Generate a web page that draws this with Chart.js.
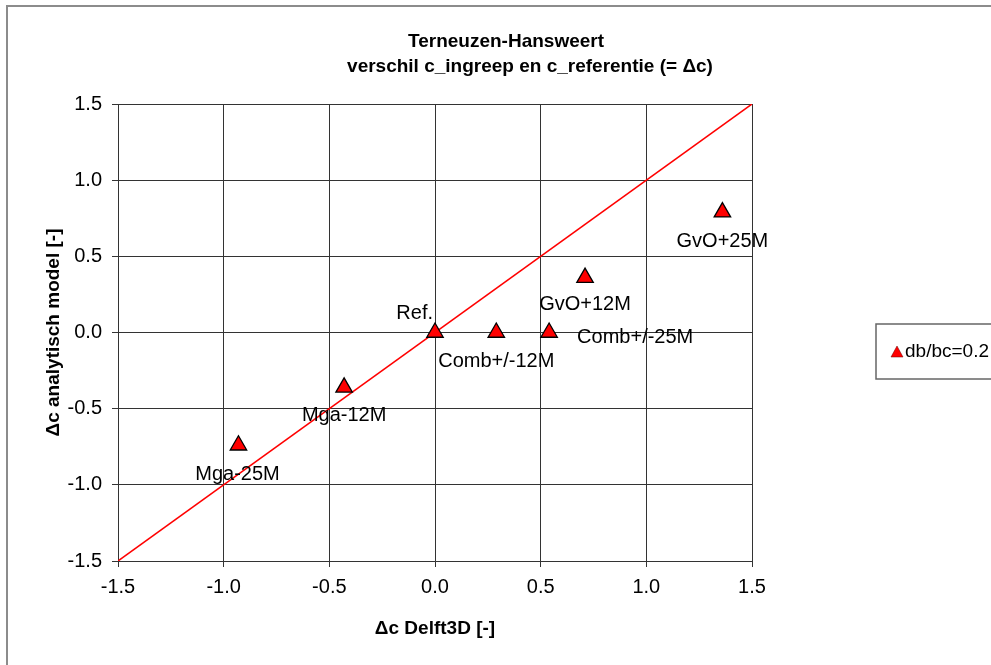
<!DOCTYPE html>
<html>
<head>
<meta charset="utf-8">
<script src="https://cdn.jsdelivr.net/npm/chart.js@4"></script>
<style>
  body { margin: 0; background: #fff; }
  canvas { display: block; }
</style>
</head>
<body>
<canvas id="chart" width="991" height="665"></canvas>
<script>
// data
const pointNames = ['Ref.', 'Comb+/-12M', 'Comb+/-25M', 'GvO+12M', 'GvO+25M', 'Mga-12M', 'Mga-25M'];
const delft3d = [0, 0.29, 0.54, 0.71, 1.36, -0.43, -0.93];
const analytisch = [0, 0, 0, 0.36, 0.79, -0.36, -0.74];
const lineX = [-1.5, 1.5];
const lineY = [-1.5, 1.5];
const tickValues = [-1.5, -1.0, -0.5, 0.0, 0.5, 1.0, 1.5];
const seriesName = 'db/bc=0.2';
const titleLines = ['Terneuzen-Hansweert', 'verschil c_ingreep en c_referentie (= \u0394c)'];

const FONT = '"Liberation Sans", Arial, sans-serif';
const GRID = '#333';

// where each point label sits relative to its marker
const labelPlace = {
    'Ref.':       { dx: -2, dy: -19, align: 'right' },
    'Comb+/-12M': { dx: 0, dy: 29, align: 'center' },
    'Comb+/-25M': { dx: 28, dy: 5, align: 'left' },
    'GvO+12M':    { dx: 0, dy: 27, align: 'center' },
    'GvO+25M':    { dx: 0, dy: 29, align: 'center' },
    'Mga-12M':    { dx: 0, dy: 28, align: 'center' },
    'Mga-25M':    { dx: -1, dy: 29, align: 'center' }
};

const decor = {
    id: 'decor',
    beforeDraw(chart) {
        const c = chart.ctx;
        c.save();
        c.fillStyle = '#fff';
        c.fillRect(0, 0, chart.width, chart.height);
        c.strokeStyle = '#8c8c8c';
        c.lineWidth = 2;
        c.strokeRect(7, 6, chart.width + 10, chart.height + 10);
        c.restore();
    },
    afterDraw(chart) {
        const c = chart.ctx;
        const area = chart.chartArea;
        c.save();
        // title
        c.fillStyle = '#000';
        c.font = 'bold 19px ' + FONT;
        c.textAlign = 'center';
        c.textBaseline = 'middle';
        c.fillText(titleLines[0], 506, 42);
        c.fillText(titleLines[1], 530, 67);

        // point labels
        c.font = '20px ' + FONT;
        const meta = chart.getDatasetMeta(0);
        meta.data.forEach((pt, i) => {
            const p = labelPlace[pointNames[i]];
            c.textAlign = p.align;
            c.fillText(pointNames[i], pt.x + p.dx, pt.y + p.dy);
        });

        // legend box
        const lx = area.right + 124, ly = 324;
        c.strokeStyle = '#666';
        c.lineWidth = 1.5;
        c.strokeRect(lx, ly, 200, 55);
        const ty = 352;
        c.fillStyle = '#ff0000';
        c.strokeStyle = '#600';
        c.lineWidth = 0.5;
        c.beginPath();
        c.moveTo(lx + 21, ty - 6);
        c.lineTo(lx + 27, ty + 5);
        c.lineTo(lx + 15, ty + 5);
        c.closePath();
        c.fill();
        c.stroke();
        c.fillStyle = '#000';
        c.textAlign = 'left';
        c.font = '19px ' + FONT;
        c.fillText(chart.data.datasets[0].label, lx + 29, ty);
        c.restore();
    }
};

const axisCommon = {
    type: 'linear',
    min: -1.5,
    max: 1.5,
    grid: { color: GRID, lineWidth: 1, tickLength: 6, tickColor: GRID, drawTicks: true },
    border: { color: GRID, width: 1 },
    afterBuildTicks: (scale) => { scale.ticks = tickValues.map(v => ({ value: v })); }
};

new Chart(document.getElementById('chart'), {
    type: 'scatter',
    data: {
        datasets: [{
            label: seriesName,
            data: delft3d.map((x, i) => ({ x: x, y: analytisch[i] })),
            pointStyle: 'triangle',
            pointRadius: 9.5,
            pointHoverRadius: 9.5,
            backgroundColor: '#ff0000',
            borderColor: '#000',
            borderWidth: 1.3
        }, {
            label: 'y = x',
            type: 'line',
            data: lineX.map((x, i) => ({ x: x, y: lineY[i] })),
            borderColor: '#ff0000',
            borderWidth: 1.5,
            pointRadius: 0,
            fill: false
        }]
    },
    options: {
        responsive: false,
        animation: false,
        layout: { padding: { left: 0, top: 104, right: 239, bottom: 0 } },
        plugins: {
            legend: { display: false },
            title: { display: false },
            tooltip: { enabled: false }
        },
        scales: {
            x: Object.assign({}, axisCommon, {
                position: 'bottom',
                ticks: {
                    color: '#000', padding: 8, maxRotation: 0,
                    font: { family: FONT, size: 20 },
                    callback: v => v.toFixed(1)
                },
                title: {
                    display: true, text: '\u0394c Delft3D [-]', color: '#000',
                    font: { family: FONT, size: 19, weight: 'bold' },
                    padding: { top: 0, bottom: 25 }
                },
                afterFit: s => { s.height = 104; }
            }),
            y: Object.assign({}, axisCommon, {
                position: 'left',
                ticks: {
                    color: '#000', padding: 10,
                    font: { family: FONT, size: 20 },
                    callback: v => v.toFixed(1)
                },
                title: {
                    display: true, text: '\u0394c analytisch model [-]', color: '#000',
                    font: { family: FONT, size: 19, weight: 'bold' },
                    padding: { top: 42, bottom: 0 }
                },
                afterFit: s => { s.width = 118; }
            })
        }
    },
    plugins: [decor]
});
</script>
</body>
</html>
